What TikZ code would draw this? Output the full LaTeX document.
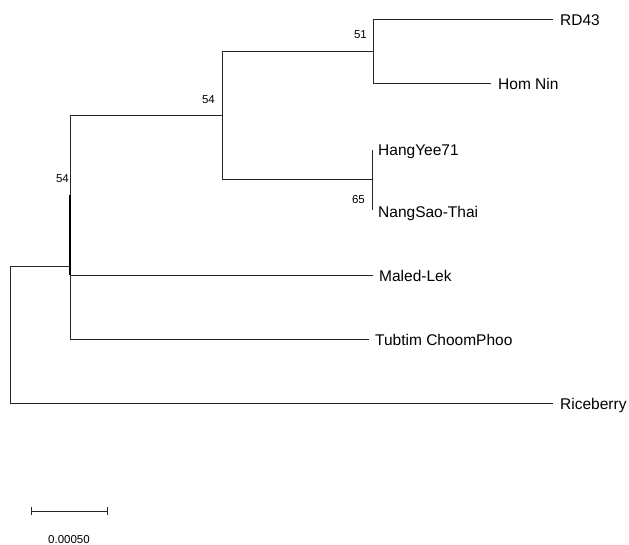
\documentclass[tikz,border=0pt]{standalone}
\usepackage{fontspec}
\setmainfont{Liberation Sans}
\begin{document}
\begin{tikzpicture}[x=1pt,y=-1pt,
  branch/.style={line width=1pt,draw=black!85},
  taxon/.style={anchor=base west,inner sep=0pt,font=\fontsize{15.5}{18}\selectfont},
  boot/.style={anchor=base east,inner sep=0pt,font=\fontsize{11.5}{13}\selectfont},
  scalelbl/.style={anchor=base,inner sep=0pt,font=\fontsize{11.5}{13}\selectfont}]
\useasboundingbox (0,0) rectangle (629,545);
% internal nodes
\coordinate (R) at (10,267);
\coordinate (A) at (70,267);
\coordinate (B) at (222,116);
\coordinate (C) at (373,52);
\coordinate (D) at (372,180);
% tips
\coordinate (tRD) at (553,20);
\coordinate (tHN) at (491,84);
\coordinate (tHY) at (372,150);
\coordinate (tNS) at (372,210);
\coordinate (tML) at (373,276);
\coordinate (tTC) at (369,339);
\coordinate (tRB) at (553,403);
% labels
\node[taxon] (RD) at ([shift={(7,6)}]tRD) {RD43};
\node[taxon] (HN) at ([shift={(7,6)}]tHN) {Hom Nin};
\node[taxon] (HY) at ([shift={(6,6)}]tHY) {HangYee71};
\node[taxon] (NS) at ([shift={(6,8)}]tNS) {NangSao-Thai};
\node[taxon] (ML) at ([shift={(6,6)}]tML) {Maled-Lek};
\node[taxon] (TC) at ([shift={(6,6)}]tTC) {Tubtim ChoomPhoo};
\node[taxon] (RB) at ([shift={(7,6)}]tRB) {Riceberry};
% branches
\draw[branch] (R) -- (A);
\draw[branch] (A |- B) -- (B);
\draw[branch] (A |- B) -- (A |- tTC) -- (tTC);
\draw[line width=2pt,draw=black] (70,195) -- (70,275);
\draw[branch] (A |- tML) -- (tML);
\draw[branch] (R) -- (R |- tRB) -- (tRB);
\draw[branch] (B |- C) -- (B |- D);
\draw[branch] (B |- C) -- (C);
\draw[branch] (B |- D) -- (D);
\draw[branch] (C |- tRD) -- (tRD);
\draw[branch] (C |- tRD) -- (C |- tHN) -- (tHN);
\draw[branch] (tHY) -- (tNS);
% bootstrap values
\node[boot] (b1) at (215,104) {54};
\node[boot] (b2) at (69,183) {54};
\node[boot] (b3) at (367,39) {51};
\node[boot] (b4) at (365,204) {65};
% scale bar
\coordinate (s1) at (31,511);
\coordinate (s2) at (107,511);
\draw[branch] (s1) -- (s2);
\draw[branch] ([yshift=-4]s1) -- ([yshift=4]s1);
\draw[branch] ([yshift=-4]s2) -- ([yshift=4]s2);
\node[scalelbl] (sl) at (69,543) {0.00050};
\end{tikzpicture}
\end{document}
